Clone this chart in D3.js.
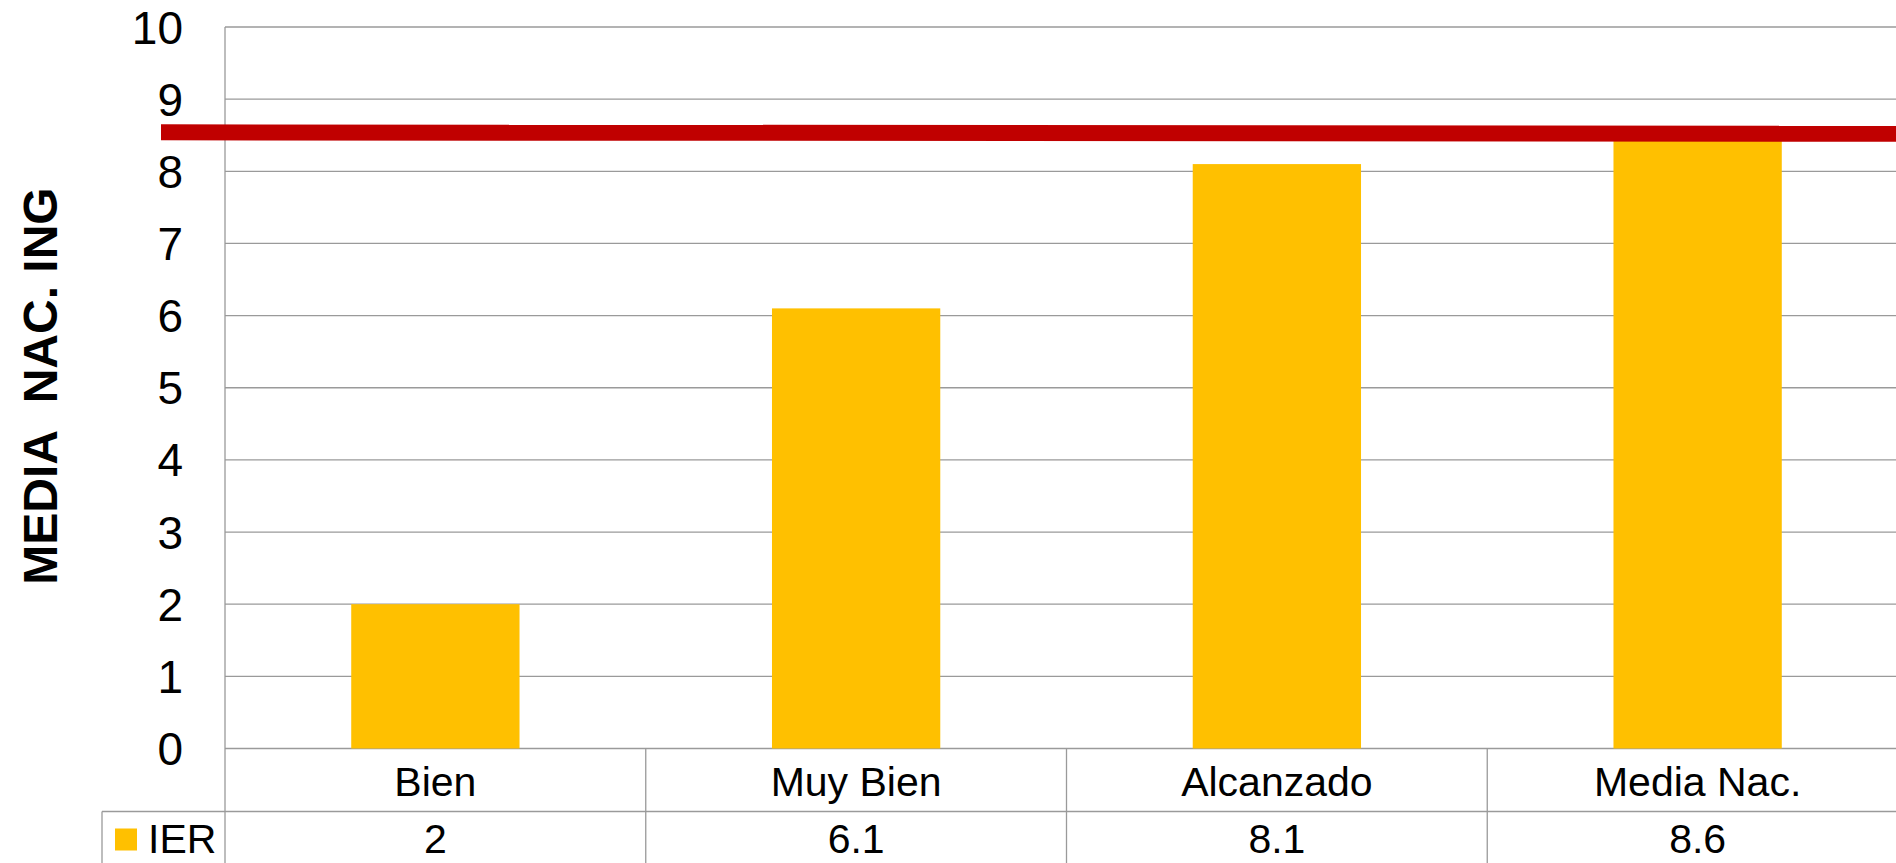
<!DOCTYPE html>
<html>
<head>
<meta charset="utf-8">
<script src="https://cdn.jsdelivr.net/npm/d3@7"></script>
<style>
  html, body { margin: 0; padding: 0; background: #fff; overflow: hidden; }
  svg { display: block; font-family: "Liberation Sans", Arial, sans-serif; }
</style>
</head>
<body>
<svg id="chart" width="1896" height="863"></svg>
<script>
// data
var categories = ["Bien", "Muy Bien", "Alcanzado", "Media Nac."];
var values = [2, 6.1, 8.1, 8.6];
var valueLabels = ["2", "6.1", "8.1", "8.6"];
var seriesName = "IER";
var yTicks = [0, 1, 2, 3, 4, 5, 6, 7, 8, 9, 10];
var refLine = [8.54, 8.52]; // red reference line, left and right end
var yTitle = "MEDIA\u00a0\u00a0NAC. ING";

var svg = d3.select("#chart");
var W = 1896, H = 863;
var plot = {left: 225, right: 1908, top: 27, bottom: 748.5};
var rowH = 63;

var x = d3.scaleBand()
    .domain(categories)
    .range([plot.left, plot.right])
    .paddingInner(0.6)
    .paddingOuter(0.3);
var y = d3.scaleLinear().domain([0, 10]).range([plot.bottom, plot.top]);

var grid = "#9a9a9a";

// horizontal gridlines
svg.append("g").selectAll("line")
    .data(yTicks)
    .join("line")
    .attr("x1", plot.left).attr("x2", W)
    .attr("y1", d => y(d)).attr("y2", d => y(d))
    .attr("stroke", grid).attr("stroke-width", 1.3);

// left border of plot
svg.append("line")
    .attr("x1", plot.left).attr("x2", plot.left)
    .attr("y1", plot.top).attr("y2", H)
    .attr("stroke", grid).attr("stroke-width", 1.3);

// y tick labels
svg.append("g").selectAll("text")
    .data(yTicks)
    .join("text")
    .attr("x", 183)
    .attr("y", d => y(d))
    .attr("dy", "0.36em")
    .attr("text-anchor", "end")
    .attr("font-size", 46)
    .text(d => d);

// y title
svg.append("text")
    .attr("transform", "translate(57," + 386 + ") rotate(-90)")
    .attr("text-anchor", "middle")
    .attr("font-size", 48)
    .attr("font-weight", "bold")
    .text(yTitle);

// bars
svg.append("g").selectAll("rect")
    .data(values)
    .join("rect")
    .attr("x", (d, i) => x(categories[i]))
    .attr("width", x.bandwidth())
    .attr("y", d => y(d))
    .attr("height", d => y(0) - y(d))
    .attr("fill", "#FFC000");

// red reference line
svg.append("line")
    .attr("x1", 161).attr("x2", W)
    .attr("y1", y(refLine[0])).attr("y2", y(refLine[1]))
    .attr("stroke", "#C00000").attr("stroke-width", 16);

// data table
var colLeft = c => x(c) - (x.step() - x.bandwidth()) / 2;
var tbl = svg.append("g");
var row1 = plot.bottom, row2 = plot.bottom + rowH;

tbl.append("line")
    .attr("x1", 102).attr("x2", W)
    .attr("y1", row2).attr("y2", row2)
    .attr("stroke", grid).attr("stroke-width", 1.3);
tbl.append("line")
    .attr("x1", 102).attr("x2", 102)
    .attr("y1", row2).attr("y2", H)
    .attr("stroke", grid).attr("stroke-width", 1.3);

tbl.selectAll("line.div")
    .data(categories.slice(1))
    .join("line")
    .attr("class", "div")
    .attr("x1", d => colLeft(d)).attr("x2", d => colLeft(d))
    .attr("y1", row1).attr("y2", H)
    .attr("stroke", grid).attr("stroke-width", 1.3);

tbl.selectAll("text.cat")
    .data(categories)
    .join("text")
    .attr("class", "cat")
    .attr("x", d => x(d) + x.bandwidth() / 2)
    .attr("y", row1 + rowH / 2 + 1)
    .attr("dy", "0.36em")
    .attr("text-anchor", "middle")
    .attr("font-size", 41)
    .text(d => d);

tbl.selectAll("text.val")
    .data(valueLabels)
    .join("text")
    .attr("class", "val")
    .attr("x", (d, i) => x(categories[i]) + x.bandwidth() / 2)
    .attr("y", row2 + 27)
    .attr("dy", "0.36em")
    .attr("text-anchor", "middle")
    .attr("font-size", 41)
    .text(d => d);

// legend key
tbl.append("rect")
    .attr("x", 115).attr("y", row2 + 17)
    .attr("width", 22).attr("height", 22)
    .attr("fill", "#FFC000");
tbl.append("text")
    .attr("x", 148)
    .attr("y", row2 + 27)
    .attr("dy", "0.36em")
    .attr("font-size", 41)
    .text(seriesName);
</script>
</body>
</html>
